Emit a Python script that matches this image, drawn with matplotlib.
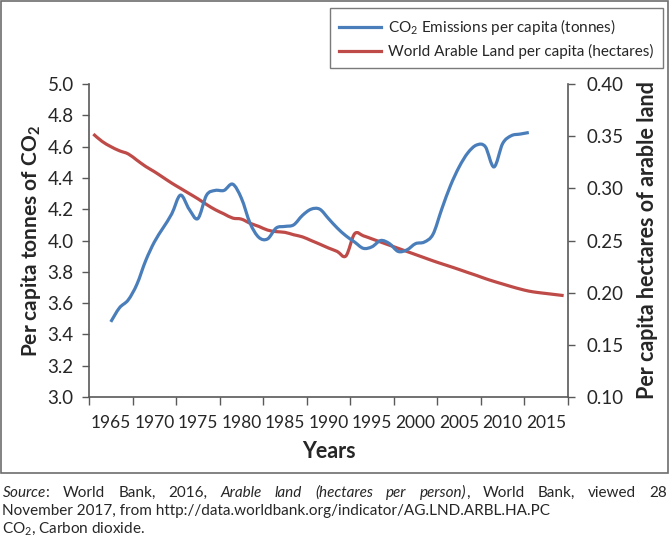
import matplotlib
matplotlib.use("Agg")
import matplotlib.pyplot as plt
from matplotlib.lines import Line2D
from matplotlib.patches import Rectangle, PathPatch
from matplotlib.path import Path
from matplotlib.transforms import IdentityTransform
import numpy as np

plt.rcParams['font.family'] = ['Lato', 'DejaVu Sans']
plt.rcParams['mathtext.fontset'] = 'custom'
plt.rcParams['mathtext.rm'] = 'Lato'
plt.rcParams['mathtext.it'] = 'Lato:italic'
plt.rcParams['mathtext.bf'] = 'Lato:bold'

# CO2 emissions per capita (tonnes), 1965-2013
co2_years = list(range(1965, 2014))
co2 = [3.48, 3.57, 3.62, 3.72, 3.87, 3.99, 4.08, 4.17, 4.29, 4.20,
       4.14, 4.29, 4.32, 4.32, 4.36, 4.27, 4.11, 4.02, 4.01, 4.08,
       4.09, 4.10, 4.16, 4.20, 4.20, 4.14, 4.08, 4.03, 3.99, 3.95,
       3.96, 4.00, 3.98, 3.93, 3.94, 3.98, 3.99, 4.04, 4.20, 4.35,
       4.47, 4.56, 4.61, 4.60, 4.47, 4.62, 4.67, 4.68, 4.69]

# world arable land per capita (hectares), 1963-2017
land_years = list(range(1963, 2018))
land = [0.352, 0.345, 0.340, 0.336, 0.333, 0.327, 0.321, 0.316, 0.3105, 0.305,
        0.300, 0.295, 0.290, 0.2845, 0.2795, 0.2755, 0.2715, 0.2705, 0.2665, 0.2635,
        0.2600, 0.2585, 0.2578, 0.2555, 0.2535, 0.2500, 0.2465, 0.2428, 0.2395, 0.2352,
        0.2565, 0.2545, 0.2515, 0.2485, 0.2455, 0.2425, 0.2395, 0.2365, 0.2335, 0.2305,
        0.2277, 0.2250, 0.2222, 0.2193, 0.2165, 0.2135, 0.2108, 0.2083, 0.2058, 0.2035,
        0.2015, 0.2002, 0.1992, 0.1982, 0.1972]

year_labels = list(range(1965, 2020, 5))
left_ticks = np.arange(3.0, 5.01, 0.2)
right_ticks = np.arange(0.10, 0.401, 0.05)

blue = '#4A7EBB'
red = '#BE4B48'
axcol = '#595959'
txt = '#262626'


def smooth_path(xs, ys):
    # excel style smoothed line: bezier through each point
    p = np.column_stack([xs, ys]).astype(float)
    verts = [p[0]]
    codes = [Path.MOVETO]
    n = len(p)
    for i in range(n - 1):
        p0 = p[i - 1] if i > 0 else p[i]
        p3 = p[i + 2] if i + 2 < n else p[i + 1]
        c1 = p[i] + (p[i + 1] - p0) / 6
        c2 = p[i + 1] - (p3 - p[i]) / 6
        verts += [c1, c2, p[i + 1]]
        codes += [Path.CURVE4] * 3
    return Path(verts, codes)


W, H = 670, 550
fig = plt.figure(figsize=(W / 100, H / 100), dpi=100)
ax = fig.add_axes([89 / W, 1 - 397 / H, (568 - 89) / W, (397 - 84) / H])
ax2 = ax.twinx()

ax.add_patch(PathPatch(smooth_path(co2_years, co2), fill=False, edgecolor=blue, lw=2.3,
                       joinstyle='round', capstyle='butt', zorder=3))
ax2.add_patch(PathPatch(smooth_path(land_years, land), fill=False, edgecolor=red, lw=2.3,
                        joinstyle='round', capstyle='butt', zorder=2))
ax.set_zorder(ax2.get_zorder() + 1)
ax.patch.set_visible(False)
l1 = Line2D([], [], color=blue, lw=2.3)
l2 = Line2D([], [], color=red, lw=2.3)

ax.set_xlim(1962.5, 2017.5)
ax.set_ylim(3.0, 5.0)
ax2.set_ylim(0.10, 0.40)

ax.set_xticks(year_labels)
ax.set_xticklabels([str(y) for y in year_labels])
ax.set_xticks(np.arange(1962.5, 2018, 5), minor=True)
ax.tick_params(axis='x', which='major', length=0, pad=13, labelsize=12.5, labelcolor=txt)
ax.tick_params(axis='x', which='minor', length=5.5, width=1, color=axcol, direction='out')

ax.set_yticks(left_ticks)
ax.set_yticklabels(['%.1f' % v for v in left_ticks])
ax.tick_params(axis='y', length=5, width=1, color=axcol, pad=6, labelsize=13.5, labelcolor=txt)
ax2.set_yticks(right_ticks)
ax2.set_yticklabels(['%.2f' % v for v in right_ticks])
ax2.tick_params(axis='y', length=5, width=1, color=axcol, pad=8, labelsize=13.5, labelcolor=txt)

for a in (ax, ax2):
    a.spines['top'].set_visible(False)
    for s in ('left', 'right', 'bottom'):
        a.spines[s].set_color(axcol)
        a.spines[s].set_linewidth(1.2)
ax.spines['right'].set_visible(False)
ax2.spines['left'].set_visible(False)
ax2.spines['bottom'].set_visible(False)

ax.set_xlabel('Years', fontsize=15.5, fontweight='bold', color=txt, labelpad=7)
ax.set_ylabel(r'Per capita tonnes of CO$_{\mathbf{2}}$', fontsize=15, fontweight='bold',
              color=txt, labelpad=3)
ax2.set_ylabel('Per capita hectares of arable land', fontsize=15.5, fontweight='bold',
               color=txt, labelpad=10)

leg = fig.legend([l1, l2],
                 [r'CO$_2$ Emissions per capita (tonnes)', 'World Arable Land per capita (hectares)'],
                 loc='upper right', bbox_to_anchor=(663 / W, 1 - 8 / H), fontsize=11,
                 frameon=True, fancybox=False, edgecolor=axcol, borderaxespad=0,
                 handlelength=2.7, handletextpad=0.5, labelspacing=0.45,
                 borderpad=0.6)
leg.get_frame().set_linewidth(1)
for t in leg.get_texts():
    t.set_color(txt)

# outer frame round the chart
fig.patches.append(Rectangle((1 / W, 1 - 473 / H), 667 / W, 472 / H, transform=fig.transFigure,
                             fill=False, edgecolor='#6d6d6d', lw=1.2))

# footer, first line justified; each word is a list of (text, style) runs
renderer = fig.canvas.get_renderer()
line1 = [[(r'$\mathit{Source}$:', 'normal')], [('World', 'normal')], [('Bank,', 'normal')],
         [('2016,', 'normal')], [('Arable', 'italic')], [('land', 'italic')],
         [('(hectares', 'italic')], [('per', 'italic')], [('person)', 'italic'), (',', 'normal')],
         [('World', 'normal')], [('Bank,', 'normal')], [('viewed', 'normal')], [('28', 'normal')]]
x0, x1 = 2, 667
words = []
for w in line1:
    parts = []
    for s, style in w:
        t = fig.text(0, 0, s, fontsize=11, style=style, color=txt, va='baseline',
                     transform=IdentityTransform())
        parts.append((t, t.get_window_extent(renderer).width))
    words.append(parts)
widths = [sum(pw for _, pw in parts) for parts in words]
gap = (x1 - x0 - sum(widths)) / (len(words) - 1)
x = x0
for parts, wd in zip(words, widths):
    xx = x
    for t, pw in parts:
        t.set_position((xx, H - 497))
        xx += pw
    x += wd + gap

fig.text(2, H - 515, 'November 2017, from http://data.worldbank.org/indicator/AG.LND.ARBL.HA.PC',
         fontsize=11, color=txt, va='baseline', transform=IdentityTransform())
fig.text(2, H - 533, r'CO$_2$, Carbon dioxide.', fontsize=11, color=txt, va='baseline',
         transform=IdentityTransform())

fig.savefig('out.png', dpi=100)
